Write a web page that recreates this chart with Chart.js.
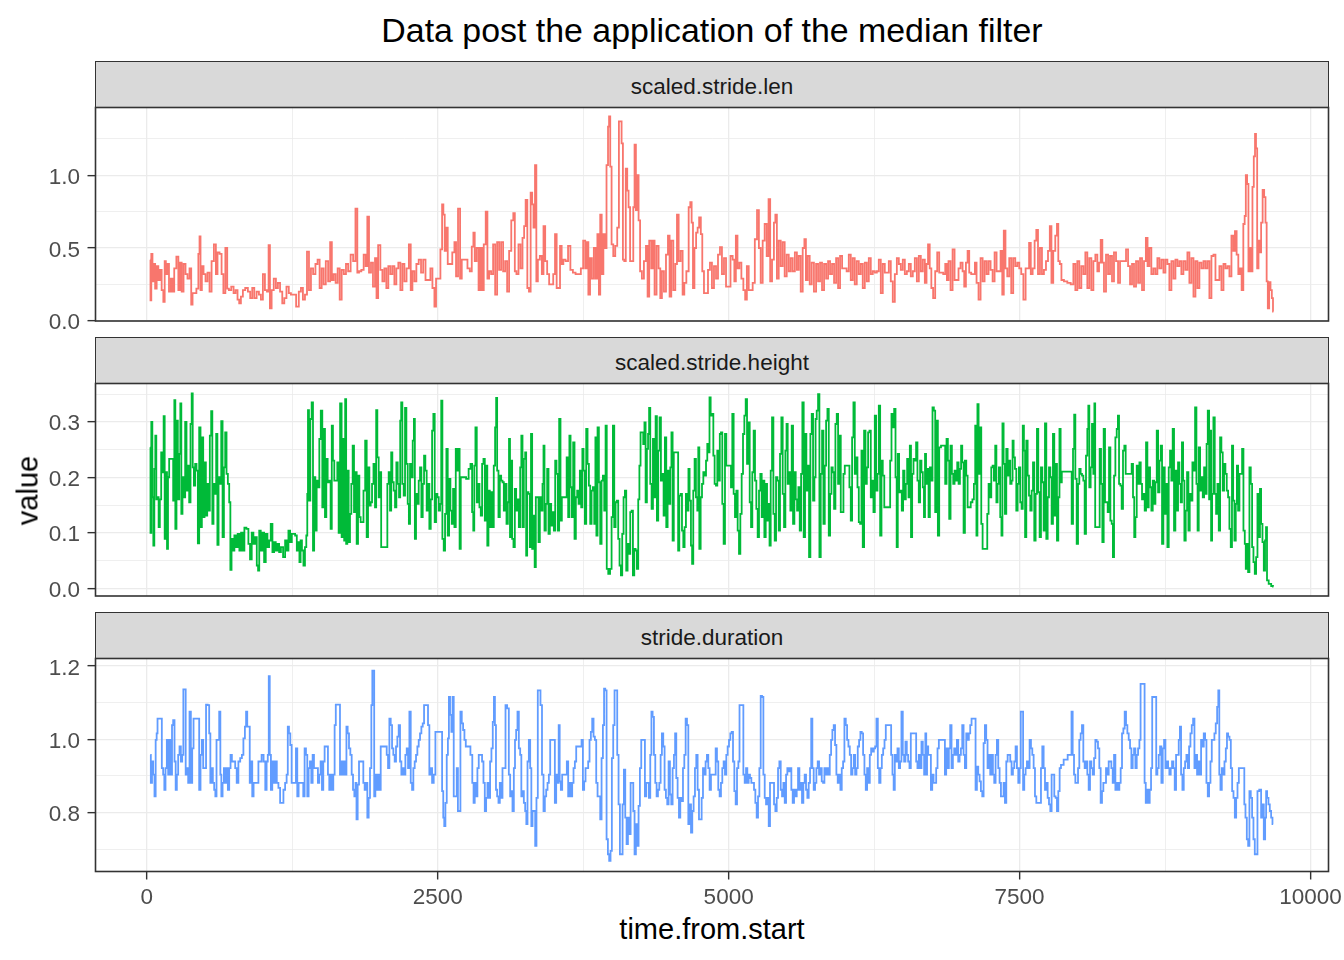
<!DOCTYPE html>
<html>
<head>
<meta charset="utf-8">
<script src="https://cdn.jsdelivr.net/npm/chart.js@4.4.1/dist/chart.umd.min.js"></script>
<style>
  html, body { margin:0; padding:0; background:#ffffff; overflow:hidden; }
  #root { position:relative; width:1344px; height:960px; background:#ffffff; font-family:'Liberation Sans', Arial, sans-serif; }
  .cv { position:absolute; left:0; }
  .strip { position:absolute; left:95px; width:1234px; height:47px; box-sizing:border-box; border:1.6px solid #333333; padding-top:6px; background:#D9D9D9; color:#1A1A1A; font-size:22.5px; display:flex; align-items:center; justify-content:center; line-height:1; }
  .title { position:absolute; left:95.5px; width:1233px; top:13px; height:34px; line-height:34px; text-align:center; font-size:33.9px; color:#000; }
  .xtitle { position:absolute; left:95.5px; width:1233px; top:915px; height:29px; line-height:29px; text-align:center; font-size:29px; color:#000; }
  .ytitle { position:absolute; left:-72px; top:475.5px; width:200px; height:29px; line-height:29px; text-align:center; font-size:29px; color:#000; transform:rotate(-90deg); }
</style>
</head>
<body>
<div id="root">
  <div class="title">Data post the application of the median filter</div>
  <div class="strip" style="top:61px;">scaled.stride.len</div>
  <div class="strip" style="top:337px;">scaled.stride.height</div>
  <div class="strip" style="top:612px;">stride.duration</div>
  <canvas id="c1" class="cv" width="1344" height="254" style="top:87px;"></canvas>
  <canvas id="c2" class="cv" width="1344" height="254" style="top:363px;"></canvas>
  <canvas id="c3" class="cv" width="1344" height="274" style="top:638px;"></canvas>
  <div class="xtitle">time.from.start</div>
  <div class="ytitle">value</div>
</div>
<script>
// ---------------- data ----------------
const panelNames = ['scaled.stride.len', 'scaled.stride.height', 'stride.duration'];
const seriesColors = ['#F8766D', '#00BA38', '#619CFF'];

const xTicks = [0, 2500, 5000, 7500, 10000];
const xTickLabels = ['0', '2500', '5000', '7500', '10000'];
const xMinorTicks = [1250, 3750, 6250, 8750];

const lenTicks = [0, 0.5, 1.0];
const lenTickLabels = ['0.0', '0.5', '1.0'];
const lenMinorTicks = [0.25, 0.75, 1.25];

const heightTicks = [0, 0.1, 0.2, 0.3];
const heightTickLabels = ['0.0', '0.1', '0.2', '0.3'];
const heightMinorTicks = [0.05, 0.15, 0.25, 0.35];

const durTicks = [0.8, 1.0, 1.2];
const durTickLabels = ['0.8', '1.0', '1.2'];
const durMinorTicks = [0.7, 0.9, 1.1];

// [time.from.start, value]
const strideLenPoints = [[29,0.42],[34,0.14],[43,0.46],[54,0.27],[66,0.39],[77,0.22],[92,0.375],[106,0.28],[120,0.35],[135,0.21],[149,0.13],[158,0.41],[169,0.32],[183,0.39],[198,0.20],[215,0.29],[227,0.20],[244,0.36],[264,0.44],[278,0.21],[292,0.40],[307,0.20],[324,0.39],[341,0.32],[358,0.29],[376,0.36],[387,0.11],[399,0.19],[416,0.19],[436,0.22],[450,0.46],[456,0.58],[467,0.21],[479,0.375],[496,0.32],[513,0.27],[530,0.33],[548,0.20],[565,0.41],[588,0.525],[599,0.32],[616,0.47],[634,0.46],[651,0.32],[665,0.19],[685,0.50],[697,0.22],[714,0.21],[737,0.235],[754,0.19],[771,0.21],[788,0.145],[800,0.12],[817,0.165],[834,0.21],[857,0.225],[880,0.20],[897,0.155],[915,0.225],[932,0.155],[955,0.20],[972,0.18],[989,0.145],[1006,0.32],[1024,0.21],[1041,0.20],[1052,0.52],[1064,0.085],[1081,0.21],[1101,0.29],[1118,0.225],[1135,0.26],[1155,0.20],[1173,0.12],[1190,0.155],[1210,0.235],[1230,0.19],[1247,0.18],[1270,0.18],[1296,0.097],[1316,0.20],[1333,0.225],[1350,0.145],[1368,0.18],[1385,0.475],[1402,0.21],[1419,0.36],[1439,0.32],[1459,0.39],[1476,0.42],[1494,0.225],[1511,0.36],[1528,0.25],[1548,0.41],[1568,0.27],[1583,0.54],[1597,0.28],[1614,0.32],[1631,0.26],[1649,0.36],[1666,0.145],[1683,0.35],[1703,0.32],[1720,0.39],[1740,0.34],[1763,0.455],[1783,0.41],[1803,0.77],[1815,0.33],[1832,0.34],[1855,0.35],[1872,0.455],[1889,0.375],[1901,0.715],[1918,0.33],[1935,0.40],[1952,0.235],[1970,0.43],[1978,0.155],[1998,0.52],[2016,0.35],[2033,0.27],[2050,0.36],[2067,0.225],[2084,0.375],[2102,0.32],[2119,0.375],[2136,0.25],[2153,0.36],[2170,0.40],[2188,0.21],[2205,0.39],[2222,0.27],[2242,0.36],[2262,0.525],[2274,0.21],[2291,0.34],[2308,0.27],[2325,0.39],[2348,0.42],[2365,0.33],[2385,0.42],[2405,0.28],[2428,0.28],[2446,0.36],[2463,0.225],[2480,0.097],[2491,0.29],[2514,0.29],[2532,0.49],[2543,0.80],[2554,0.73],[2566,0.48],[2577,0.64],[2595,0.39],[2615,0.39],[2635,0.47],[2652,0.54],[2663,0.305],[2686,0.77],[2698,0.29],[2715,0.42],[2744,0.42],[2767,0.36],[2784,0.34],[2801,0.51],[2812,0.605],[2824,0.41],[2844,0.50],[2858,0.21],[2875,0.50],[2887,0.21],[2904,0.525],[2921,0.75],[2933,0.29],[2950,0.34],[2967,0.32],[2985,0.525],[3002,0.18],[3019,0.54],[3036,0.35],[3053,0.54],[3071,0.34],[3088,0.41],[3105,0.20],[3122,0.48],[3142,0.69],[3157,0.74],[3168,0.34],[3185,0.32],[3203,0.525],[3220,0.36],[3237,0.57],[3248,0.65],[3263,0.83],[3277,0.225],[3291,0.20],[3306,0.88],[3317,0.80],[3329,0.64],[3343,1.07],[3352,0.27],[3369,0.42],[3386,0.445],[3403,0.32],[3415,0.65],[3432,0.41],[3449,0.32],[3466,0.25],[3484,0.25],[3501,0.32],[3515,0.595],[3529,0.225],[3544,0.225],[3558,0.515],[3572,0.39],[3587,0.42],[3610,0.41],[3630,0.515],[3650,0.35],[3673,0.33],[3696,0.32],[3719,0.32],[3741,0.36],[3759,0.55],[3776,0.36],[3787,0.54],[3802,0.18],[3816,0.43],[3833,0.29],[3850,0.50],[3865,0.29],[3879,0.595],[3891,0.18],[3902,0.73],[3916,0.32],[3931,0.595],[3942,0.50],[3959,1.07],[3968,1.335],[3977,1.405],[3988,1.06],[4000,0.525],[4017,0.445],[4034,0.515],[4051,0.64],[4063,1.37],[4074,1.37],[4086,1.22],[4097,0.42],[4109,0.41],[4123,1.045],[4134,0.895],[4146,0.78],[4160,0.41],[4175,0.41],[4186,0.78],[4197,1.21],[4209,0.76],[4220,1.0],[4232,0.69],[4246,0.34],[4263,0.29],[4281,0.41],[4298,0.515],[4309,0.165],[4326,0.55],[4344,0.36],[4355,0.55],[4372,0.18],[4389,0.515],[4407,0.36],[4418,0.155],[4435,0.34],[4453,0.20],[4470,0.455],[4487,0.585],[4498,0.165],[4516,0.55],[4533,0.21],[4550,0.39],[4562,0.73],[4579,0.41],[4596,0.48],[4613,0.18],[4625,0.26],[4648,0.34],[4665,0.78],[4676,0.815],[4688,0.675],[4699,0.225],[4713,0.50],[4728,0.605],[4739,0.64],[4754,0.71],[4768,0.595],[4779,0.34],[4797,0.19],[4814,0.19],[4831,0.35],[4848,0.40],[4865,0.225],[4883,0.375],[4900,0.29],[4917,0.455],[4934,0.505],[4951,0.32],[4969,0.43],[4986,0.235],[5006,0.235],[5026,0.445],[5043,0.42],[5055,0.27],[5069,0.585],[5083,0.36],[5101,0.40],[5118,0.29],[5135,0.21],[5149,0.145],[5164,0.375],[5181,0.21],[5198,0.21],[5215,0.26],[5235,0.56],[5253,0.76],[5267,0.50],[5284,0.26],[5301,0.55],[5318,0.665],[5336,0.445],[5350,0.835],[5364,0.27],[5382,0.42],[5396,0.675],[5407,0.73],[5422,0.29],[5439,0.55],[5456,0.375],[5473,0.54],[5490,0.305],[5508,0.455],[5525,0.34],[5542,0.43],[5559,0.34],[5579,0.47],[5594,0.35],[5611,0.445],[5628,0.20],[5645,0.50],[5657,0.56],[5671,0.28],[5688,0.445],[5705,0.25],[5723,0.40],[5743,0.20],[5760,0.39],[5777,0.27],[5794,0.40],[5811,0.21],[5829,0.39],[5846,0.29],[5863,0.41],[5880,0.32],[5897,0.39],[5915,0.26],[5932,0.43],[5949,0.225],[5966,0.445],[5984,0.36],[6004,0.36],[6024,0.34],[6041,0.455],[6058,0.28],[6075,0.43],[6092,0.25],[6110,0.41],[6127,0.32],[6144,0.39],[6161,0.225],[6179,0.40],[6196,0.27],[6213,0.43],[6230,0.32],[6247,0.34],[6265,0.33],[6282,0.34],[6299,0.42],[6316,0.19],[6333,0.39],[6351,0.33],[6368,0.33],[6385,0.41],[6402,0.27],[6419,0.13],[6437,0.32],[6454,0.43],[6471,0.39],[6488,0.35],[6505,0.42],[6523,0.32],[6540,0.34],[6557,0.39],[6574,0.305],[6591,0.34],[6609,0.43],[6626,0.27],[6643,0.445],[6660,0.34],[6677,0.42],[6695,0.26],[6706,0.39],[6721,0.525],[6735,0.36],[6749,0.225],[6766,0.155],[6784,0.34],[6801,0.47],[6818,0.33],[6835,0.33],[6853,0.32],[6870,0.39],[6881,0.28],[6898,0.41],[6916,0.21],[6933,0.49],[6950,0.28],[6967,0.28],[6984,0.36],[7002,0.40],[7019,0.34],[7030,0.235],[7048,0.40],[7059,0.48],[7076,0.33],[7093,0.32],[7111,0.32],[7122,0.40],[7139,0.26],[7156,0.145],[7174,0.43],[7191,0.27],[7208,0.41],[7225,0.32],[7242,0.41],[7260,0.35],[7277,0.27],[7294,0.47],[7311,0.34],[7328,0.34],[7346,0.48],[7357,0.18],[7372,0.62],[7386,0.36],[7403,0.305],[7420,0.43],[7437,0.19],[7454,0.43],[7472,0.375],[7489,0.40],[7506,0.36],[7523,0.32],[7543,0.145],[7561,0.36],[7575,0.36],[7589,0.535],[7604,0.32],[7621,0.36],[7638,0.55],[7650,0.625],[7667,0.32],[7684,0.50],[7701,0.32],[7718,0.35],[7736,0.41],[7753,0.48],[7767,0.65],[7781,0.26],[7798,0.48],[7816,0.585],[7827,0.665],[7839,0.41],[7853,0.39],[7867,0.28],[7896,0.27],[7925,0.26],[7954,0.25],[7971,0.39],[7988,0.21],[8005,0.41],[8022,0.225],[8040,0.375],[8057,0.32],[8074,0.47],[8091,0.225],[8108,0.43],[8126,0.21],[8143,0.41],[8160,0.455],[8177,0.34],[8189,0.40],[8206,0.555],[8217,0.40],[8234,0.20],[8252,0.455],[8269,0.32],[8286,0.445],[8303,0.27],[8320,0.47],[8338,0.41],[8355,0.26],[8372,0.41],[8389,0.41],[8406,0.41],[8424,0.49],[8441,0.375],[8458,0.25],[8475,0.39],[8492,0.235],[8510,0.41],[8527,0.26],[8544,0.43],[8561,0.21],[8578,0.41],[8593,0.57],[8607,0.375],[8624,0.50],[8641,0.32],[8659,0.36],[8676,0.32],[8693,0.43],[8710,0.36],[8728,0.42],[8745,0.33],[8762,0.42],[8779,0.39],[8796,0.21],[8814,0.41],[8831,0.29],[8848,0.42],[8865,0.375],[8882,0.41],[8899,0.32],[8917,0.41],[8934,0.35],[8951,0.47],[8968,0.26],[8986,0.43],[9003,0.165],[9020,0.41],[9037,0.225],[9054,0.40],[9072,0.36],[9089,0.41],[9106,0.36],[9123,0.41],[9140,0.155],[9158,0.445],[9175,0.455],[9192,0.28],[9209,0.28],[9226,0.375],[9244,0.21],[9261,0.39],[9278,0.36],[9295,0.375],[9312,0.305],[9330,0.585],[9344,0.48],[9358,0.615],[9373,0.455],[9387,0.32],[9401,0.36],[9416,0.21],[9430,0.665],[9439,0.72],[9450,1.0],[9461,0.94],[9473,0.34],[9485,0.50],[9496,0.34],[9507,0.92],[9519,1.13],[9528,1.285],[9536,1.185],[9548,0.36],[9559,0.55],[9570,0.47],[9582,0.675],[9596,0.90],[9608,0.85],[9619,0.675],[9628,0.27],[9639,0.085],[9651,0.265],[9662,0.21],[9674,0.155],[9682,0.063]];

const strideHeightPoints = [[29,0.254],[34,0.10],[43,0.30],[52,0.164],[60,0.077],[69,0.215],[77,0.275],[86,0.16],[97,0.164],[106,0.11],[118,0.16],[129,0.245],[140,0.209],[149,0.31],[158,0.089],[169,0.209],[178,0.071],[186,0.20],[198,0.233],[221,0.233],[232,0.158],[241,0.339],[249,0.107],[261,0.302],[272,0.16],[284,0.242],[292,0.333],[301,0.134],[312,0.20],[324,0.164],[335,0.30],[347,0.176],[358,0.221],[370,0.155],[381,0.296],[390,0.351],[399,0.218],[410,0.185],[421,0.224],[433,0.212],[444,0.081],[456,0.29],[467,0.11],[479,0.272],[490,0.128],[502,0.227],[513,0.131],[525,0.188],[536,0.14],[547,0.275],[559,0.319],[567,0.116],[579,0.188],[590,0.17],[602,0.278],[611,0.078],[622,0.20],[634,0.188],[645,0.301],[657,0.092],[668,0.218],[679,0.281],[691,0.206],[702,0.188],[714,0.155],[722,0.033],[734,0.089],[745,0.068],[760,0.095],[774,0.074],[788,0.098],[803,0.068],[817,0.10],[831,0.068],[846,0.109],[866,0.107],[880,0.08],[894,0.052],[909,0.10],[923,0.08],[938,0.092],[952,0.041],[960,0.032],[972,0.104],[986,0.068],[1001,0.10],[1015,0.047],[1029,0.098],[1044,0.074],[1058,0.086],[1072,0.116],[1087,0.065],[1101,0.083],[1115,0.068],[1130,0.08],[1144,0.065],[1161,0.074],[1181,0.056],[1196,0.086],[1210,0.068],[1224,0.104],[1239,0.083],[1253,0.098],[1267,0.098],[1282,0.095],[1296,0.068],[1307,0.083],[1316,0.047],[1327,0.086],[1339,0.068],[1353,0.041],[1365,0.074],[1376,0.095],[1382,0.17],[1388,0.321],[1399,0.158],[1411,0.305],[1422,0.335],[1434,0.068],[1442,0.20],[1454,0.104],[1465,0.194],[1477,0.182],[1488,0.269],[1502,0.32],[1514,0.146],[1525,0.287],[1537,0.128],[1548,0.233],[1560,0.191],[1574,0.194],[1585,0.107],[1594,0.293],[1605,0.23],[1617,0.194],[1631,0.194],[1643,0.227],[1654,0.10],[1668,0.333],[1680,0.092],[1692,0.269],[1700,0.086],[1709,0.341],[1717,0.08],[1729,0.212],[1740,0.083],[1752,0.134],[1763,0.188],[1775,0.257],[1786,0.137],[1798,0.209],[1809,0.08],[1821,0.203],[1832,0.128],[1843,0.119],[1855,0.119],[1869,0.176],[1884,0.266],[1895,0.092],[1907,0.218],[1918,0.149],[1930,0.155],[1941,0.188],[1955,0.224],[1967,0.146],[1975,0.321],[1987,0.236],[1998,0.164],[2010,0.209],[2018,0.074],[2041,0.074],[2061,0.074],[2073,0.188],[2084,0.209],[2096,0.14],[2104,0.245],[2116,0.191],[2127,0.176],[2139,0.146],[2150,0.227],[2162,0.188],[2173,0.164],[2182,0.302],[2190,0.335],[2202,0.188],[2213,0.167],[2225,0.325],[2236,0.224],[2248,0.152],[2256,0.116],[2268,0.224],[2279,0.20],[2291,0.266],[2299,0.305],[2308,0.089],[2319,0.17],[2331,0.152],[2342,0.194],[2354,0.218],[2365,0.128],[2377,0.188],[2388,0.239],[2399,0.212],[2411,0.14],[2422,0.188],[2434,0.107],[2446,0.16],[2457,0.284],[2468,0.314],[2480,0.119],[2491,0.17],[2503,0.164],[2514,0.14],[2526,0.152],[2534,0.338],[2546,0.089],[2557,0.068],[2569,0.134],[2580,0.251],[2592,0.095],[2603,0.197],[2615,0.14],[2626,0.116],[2638,0.179],[2649,0.11],[2661,0.251],[2672,0.212],[2684,0.251],[2692,0.071],[2704,0.20],[2730,0.20],[2758,0.197],[2773,0.215],[2790,0.224],[2801,0.137],[2810,0.104],[2818,0.221],[2830,0.29],[2841,0.155],[2853,0.188],[2864,0.146],[2876,0.131],[2887,0.224],[2899,0.233],[2910,0.122],[2922,0.221],[2930,0.077],[2942,0.176],[2953,0.11],[2964,0.173],[2976,0.11],[2987,0.221],[2999,0.29],[3005,0.343],[3016,0.212],[3028,0.128],[3039,0.203],[3051,0.194],[3062,0.191],[3074,0.14],[3085,0.188],[3097,0.116],[3108,0.155],[3117,0.269],[3125,0.092],[3134,0.23],[3145,0.089],[3157,0.074],[3168,0.179],[3180,0.14],[3191,0.16],[3203,0.11],[3214,0.218],[3223,0.275],[3234,0.11],[3246,0.233],[3257,0.245],[3263,0.059],[3274,0.173],[3286,0.17],[3297,0.074],[3306,0.278],[3317,0.071],[3329,0.131],[3337,0.038],[3349,0.164],[3360,0.164],[3372,0.083],[3383,0.164],[3395,0.14],[3406,0.188],[3412,0.257],[3423,0.104],[3435,0.152],[3446,0.215],[3458,0.098],[3469,0.152],[3481,0.113],[3492,0.137],[3504,0.104],[3515,0.23],[3526,0.206],[3538,0.104],[3549,0.305],[3561,0.122],[3572,0.164],[3601,0.164],[3615,0.236],[3627,0.128],[3636,0.275],[3647,0.182],[3658,0.128],[3670,0.263],[3681,0.089],[3693,0.164],[3704,0.176],[3716,0.152],[3727,0.212],[3739,0.146],[3747,0.251],[3759,0.212],[3770,0.116],[3782,0.287],[3793,0.224],[3805,0.185],[3816,0.116],[3828,0.176],[3839,0.182],[3851,0.116],[3859,0.272],[3868,0.095],[3879,0.29],[3891,0.191],[3902,0.08],[3914,0.194],[3925,0.203],[3937,0.14],[3948,0.293],[3957,0.035],[3974,0.026],[3988,0.035],[4000,0.128],[4011,0.293],[4023,0.11],[4034,0.155],[4045,0.158],[4057,0.089],[4068,0.041],[4080,0.023],[4091,0.098],[4103,0.164],[4114,0.176],[4126,0.032],[4137,0.08],[4149,0.062],[4160,0.137],[4172,0.14],[4183,0.023],[4195,0.071],[4206,0.068],[4217,0.035],[4229,0.16],[4237,0.221],[4249,0.281],[4260,0.281],[4272,0.26],[4281,0.299],[4292,0.155],[4303,0.251],[4312,0.278],[4321,0.325],[4332,0.188],[4344,0.143],[4355,0.269],[4367,0.164],[4378,0.31],[4389,0.122],[4401,0.248],[4412,0.308],[4424,0.194],[4435,0.206],[4447,0.131],[4458,0.272],[4470,0.11],[4481,0.212],[4493,0.152],[4504,0.218],[4513,0.281],[4524,0.086],[4533,0.245],[4562,0.245],[4570,0.068],[4582,0.167],[4593,0.17],[4605,0.104],[4616,0.074],[4627,0.11],[4639,0.17],[4650,0.14],[4659,0.215],[4670,0.158],[4682,0.077],[4690,0.044],[4702,0.176],[4713,0.233],[4725,0.164],[4736,0.14],[4742,0.254],[4754,0.071],[4765,0.164],[4777,0.188],[4788,0.209],[4800,0.203],[4811,0.23],[4822,0.26],[4831,0.245],[4840,0.344],[4851,0.311],[4863,0.314],[4874,0.239],[4885,0.188],[4897,0.185],[4908,0.248],[4920,0.194],[4928,0.278],[4940,0.281],[4951,0.152],[4963,0.08],[4974,0.278],[4986,0.221],[5014,0.221],[5026,0.182],[5037,0.314],[5049,0.17],[5060,0.128],[5072,0.176],[5083,0.104],[5095,0.062],[5106,0.134],[5118,0.206],[5129,0.278],[5141,0.311],[5152,0.341],[5164,0.224],[5175,0.299],[5187,0.155],[5198,0.11],[5209,0.209],[5221,0.284],[5232,0.194],[5244,0.143],[5255,0.092],[5267,0.176],[5278,0.206],[5290,0.128],[5301,0.194],[5313,0.092],[5324,0.188],[5336,0.122],[5347,0.152],[5356,0.077],[5367,0.212],[5379,0.308],[5390,0.134],[5402,0.086],[5413,0.20],[5425,0.194],[5436,0.104],[5447,0.242],[5459,0.308],[5470,0.17],[5482,0.11],[5493,0.248],[5502,0.296],[5513,0.188],[5525,0.209],[5536,0.14],[5548,0.293],[5559,0.116],[5571,0.209],[5582,0.16],[5594,0.14],[5605,0.182],[5617,0.104],[5628,0.206],[5639,0.335],[5651,0.092],[5662,0.278],[5674,0.176],[5685,0.221],[5697,0.056],[5708,0.278],[5720,0.314],[5731,0.158],[5743,0.20],[5751,0.305],[5763,0.32],[5774,0.35],[5786,0.056],[5797,0.206],[5809,0.284],[5820,0.116],[5832,0.221],[5843,0.302],[5855,0.323],[5866,0.095],[5878,0.17],[5889,0.218],[5900,0.209],[5912,0.143],[5923,0.296],[5935,0.314],[5946,0.188],[5958,0.275],[5969,0.137],[5981,0.137],[5992,0.206],[6004,0.221],[6032,0.221],[6044,0.182],[6055,0.122],[6067,0.272],[6078,0.335],[6090,0.206],[6101,0.236],[6113,0.182],[6124,0.119],[6136,0.116],[6147,0.248],[6158,0.074],[6170,0.284],[6182,0.188],[6193,0.218],[6204,0.281],[6216,0.284],[6227,0.164],[6239,0.194],[6250,0.137],[6262,0.311],[6273,0.176],[6285,0.206],[6296,0.329],[6308,0.095],[6319,0.23],[6330,0.203],[6345,0.146],[6382,0.146],[6394,0.23],[6405,0.314],[6417,0.29],[6428,0.323],[6440,0.20],[6448,0.074],[6459,0.242],[6471,0.173],[6482,0.176],[6494,0.14],[6505,0.212],[6517,0.16],[6528,0.188],[6540,0.233],[6551,0.164],[6563,0.257],[6571,0.092],[6583,0.206],[6594,0.233],[6605,0.23],[6617,0.263],[6628,0.194],[6640,0.155],[6651,0.23],[6663,0.209],[6674,0.182],[6683,0.128],[6692,0.242],[6701,0.188],[6712,0.215],[6724,0.128],[6735,0.218],[6746,0.194],[6758,0.326],[6769,0.32],[6781,0.137],[6792,0.302],[6804,0.095],[6815,0.254],[6835,0.257],[6855,0.257],[6867,0.188],[6878,0.269],[6890,0.23],[6901,0.125],[6913,0.257],[6924,0.206],[6936,0.188],[6947,0.212],[6959,0.194],[6970,0.227],[6982,0.188],[6993,0.215],[7002,0.257],[7013,0.227],[7025,0.10],[7036,0.23],[7048,0.203],[7059,0.146],[7073,0.146],[7088,0.155],[7102,0.16],[7113,0.188],[7125,0.293],[7134,0.095],[7142,0.332],[7154,0.206],[7165,0.29],[7177,0.116],[7188,0.071],[7217,0.071],[7228,0.134],[7240,0.188],[7251,0.164],[7263,0.218],[7274,0.221],[7285,0.194],[7297,0.257],[7305,0.155],[7317,0.188],[7328,0.218],[7340,0.128],[7349,0.095],[7357,0.297],[7369,0.224],[7380,0.134],[7392,0.251],[7403,0.203],[7414,0.23],[7426,0.188],[7437,0.194],[7443,0.266],[7455,0.236],[7466,0.215],[7478,0.14],[7489,0.188],[7500,0.218],[7512,0.155],[7523,0.143],[7532,0.293],[7543,0.248],[7552,0.092],[7564,0.266],[7575,0.203],[7587,0.167],[7598,0.14],[7610,0.176],[7621,0.227],[7632,0.086],[7644,0.17],[7655,0.287],[7667,0.173],[7678,0.092],[7690,0.218],[7701,0.191],[7713,0.104],[7724,0.297],[7736,0.089],[7747,0.164],[7759,0.218],[7770,0.20],[7781,0.116],[7793,0.278],[7804,0.131],[7816,0.224],[7827,0.086],[7839,0.164],[7847,0.287],[7859,0.191],[7867,0.21],[7942,0.21],[7954,0.116],[7965,0.251],[7974,0.313],[7985,0.197],[7997,0.08],[8008,0.188],[8019,0.215],[8031,0.206],[8042,0.203],[8054,0.194],[8065,0.098],[8077,0.239],[8088,0.287],[8094,0.329],[8105,0.182],[8117,0.218],[8128,0.296],[8140,0.206],[8146,0.333],[8154,0.11],[8183,0.11],[8194,0.251],[8206,0.188],[8217,0.083],[8229,0.287],[8240,0.155],[8252,0.155],[8263,0.137],[8275,0.254],[8286,0.122],[8298,0.116],[8306,0.056],[8318,0.203],[8329,0.272],[8341,0.287],[8349,0.311],[8361,0.188],[8372,0.185],[8383,0.143],[8395,0.248],[8406,0.257],[8418,0.206],[8458,0.206],[8469,0.224],[8481,0.164],[8490,0.092],[8501,0.128],[8513,0.221],[8524,0.188],[8536,0.227],[8547,0.188],[8558,0.16],[8570,0.17],[8581,0.14],[8593,0.263],[8604,0.146],[8616,0.218],[8627,0.182],[8639,0.14],[8650,0.194],[8662,0.152],[8673,0.191],[8685,0.284],[8696,0.173],[8708,0.23],[8719,0.257],[8730,0.08],[8742,0.218],[8753,0.134],[8765,0.188],[8776,0.074],[8788,0.218],[8799,0.248],[8810,0.194],[8822,0.287],[8833,0.104],[8845,0.212],[8856,0.14],[8868,0.227],[8879,0.188],[8891,0.155],[8900,0.263],[8911,0.194],[8922,0.086],[8934,0.14],[8945,0.209],[8957,0.104],[8968,0.17],[8980,0.158],[8991,0.227],[9003,0.212],[9014,0.326],[9026,0.188],[9034,0.104],[9046,0.254],[9057,0.176],[9069,0.20],[9080,0.164],[9092,0.218],[9103,0.17],[9112,0.26],[9123,0.32],[9135,0.16],[9143,0.284],[9149,0.086],[9160,0.17],[9172,0.308],[9183,0.17],[9195,0.134],[9206,0.188],[9218,0.104],[9229,0.272],[9240,0.245],[9252,0.176],[9263,0.224],[9275,0.206],[9286,0.176],[9298,0.164],[9309,0.107],[9321,0.074],[9330,0.257],[9341,0.158],[9352,0.086],[9364,0.152],[9372,0.221],[9384,0.14],[9395,0.206],[9407,0.206],[9418,0.251],[9430,0.104],[9441,0.08],[9447,0.035],[9458,0.08],[9470,0.029],[9481,0.218],[9493,0.188],[9504,0.074],[9516,0.047],[9527,0.026],[9539,0.056],[9550,0.17],[9562,0.092],[9570,0.179],[9582,0.116],[9593,0.083],[9605,0.032],[9614,0.086],[9622,0.11],[9631,0.014],[9651,0.008],[9674,0.004],[9682,0.003]];

const strideDurationPoints = [[29,0.957],[40,0.881],[49,0.939],[60,0.903],[72,0.844],[80,0.998],[89,1.016],[95,1.056],[123,1.056],[135,0.921],[146,0.903],[155,0.862],[166,0.921],[178,0.998],[189,0.903],[201,0.998],[212,0.903],[221,1.038],[232,1.052],[244,0.939],[252,0.862],[264,0.903],[275,0.957],[287,0.98],[298,0.939],[310,0.957],[318,1.136],[330,1.136],[338,0.903],[350,0.921],[361,0.881],[373,1.075],[384,0.881],[396,0.975],[407,1.056],[444,1.056],[456,0.862],[467,0.957],[479,0.998],[490,0.921],[502,0.921],[516,1.094],[530,1.093],[542,1.016],[550,0.881],[562,0.921],[573,0.881],[585,0.862],[593,0.844],[605,0.998],[616,0.998],[628,1.075],[636,0.903],[645,0.844],[657,0.881],[668,0.921],[679,0.881],[691,0.921],[702,0.862],[714,0.921],[725,0.957],[737,0.939],[754,0.939],[765,0.921],[780,0.881],[794,0.939],[811,0.948],[823,0.957],[837,1.002],[849,1.034],[857,1.075],[869,1.034],[880,1.034],[889,0.881],[900,0.939],[912,0.844],[923,0.881],[952,0.881],[966,0.939],[978,0.939],[995,0.957],[1012,0.939],[1024,0.862],[1035,0.939],[1044,0.957],[1052,1.172],[1061,0.957],[1072,0.862],[1084,0.939],[1095,0.881],[1110,0.939],[1124,0.881],[1138,0.867],[1153,0.826],[1167,0.826],[1181,0.862],[1196,0.881],[1207,0.903],[1216,1.034],[1227,1.016],[1239,0.984],[1250,0.881],[1276,0.881],[1287,0.975],[1299,0.844],[1310,0.881],[1339,0.881],[1350,0.844],[1362,0.975],[1373,0.957],[1385,0.844],[1396,0.921],[1408,0.939],[1419,0.881],[1431,0.957],[1442,0.921],[1465,0.921],[1476,0.881],[1488,0.903],[1499,0.939],[1511,0.862],[1522,0.939],[1534,0.98],[1551,0.98],[1562,0.903],[1574,0.862],[1585,0.903],[1597,0.862],[1608,0.903],[1620,1.038],[1628,1.094],[1654,1.094],[1666,0.903],[1677,0.939],[1689,0.903],[1700,0.939],[1711,0.903],[1720,1.034],[1732,1.016],[1743,0.975],[1755,0.957],[1766,0.903],[1778,0.862],[1789,0.844],[1798,0.881],[1806,0.781],[1818,0.876],[1829,0.939],[1855,0.939],[1866,0.881],[1878,0.862],[1889,0.881],[1901,0.786],[1912,0.84],[1924,0.921],[1935,1.093],[1941,1.187],[1950,1.187],[1958,0.844],[1970,0.903],[1981,0.862],[1993,0.903],[2004,0.862],[2016,0.98],[2056,0.98],[2067,0.957],[2079,0.921],[2090,1.056],[2102,1.038],[2113,0.975],[2124,0.957],[2136,0.939],[2147,0.98],[2159,1.007],[2170,1.038],[2182,0.939],[2193,0.903],[2205,0.921],[2216,0.903],[2228,0.957],[2239,0.975],[2251,0.921],[2262,1.075],[2274,0.881],[2285,0.862],[2296,0.921],[2308,0.939],[2319,0.957],[2331,0.98],[2342,0.998],[2354,1.016],[2365,1.034],[2377,1.043],[2388,1.093],[2411,1.093],[2422,1.038],[2434,0.903],[2446,0.921],[2457,0.881],[2474,0.903],[2486,1.02],[2532,1.02],[2543,0.858],[2552,0.786],[2560,0.763],[2572,0.826],[2583,0.957],[2592,1.002],[2600,1.115],[2612,1.066],[2623,1.02],[2632,1.115],[2643,0.844],[2658,0.844],[2669,0.921],[2678,0.804],[2689,0.804],[2701,1.075],[2712,1.043],[2724,1.025],[2735,0.998],[2747,0.98],[2772,0.98],[2790,0.957],[2804,0.881],[2812,0.826],[2824,0.881],[2835,0.844],[2847,0.921],[2858,0.957],[2875,0.957],[2887,0.939],[2899,0.881],[2910,0.804],[2922,0.84],[2933,0.881],[2944,0.84],[2956,0.939],[2967,0.975],[2979,1.047],[2987,1.115],[2996,1.038],[3005,0.862],[3016,0.844],[3028,0.826],[3039,0.881],[3051,0.84],[3062,0.921],[3077,0.921],[3088,1.093],[3105,1.084],[3117,0.903],[3128,0.844],[3137,0.858],[3148,0.804],[3160,0.921],[3168,0.998],[3180,1.025],[3191,1.075],[3203,0.975],[3214,0.957],[3223,0.844],[3234,0.858],[3246,0.826],[3257,0.804],[3266,0.768],[3277,0.939],[3289,0.998],[3300,0.921],[3309,0.763],[3320,0.804],[3332,0.804],[3343,0.709],[3354,0.84],[3366,1.133],[3377,1.133],[3389,1.093],[3403,0.903],[3415,0.804],[3426,0.844],[3438,0.862],[3449,0.881],[3461,0.903],[3472,0.998],[3501,0.998],[3512,0.826],[3524,0.903],[3535,0.881],[3544,1.038],[3552,0.885],[3564,0.862],[3575,0.903],[3604,0.903],[3615,0.939],[3627,0.844],[3638,0.881],[3650,0.844],[3661,0.881],[3673,0.921],[3684,0.939],[3696,0.98],[3730,0.98],[3742,0.998],[3753,0.862],[3764,0.885],[3776,0.921],[3787,0.921],[3799,0.939],[3810,0.998],[3822,1.02],[3833,1.056],[3845,1.007],[3856,0.998],[3868,0.881],[3879,0.844],[3891,0.844],[3902,0.781],[3914,0.948],[3925,1.038],[3934,1.138],[3945,1.133],[3957,0.727],[3968,0.686],[3979,0.668],[3991,0.695],[4002,0.948],[4014,1.038],[4025,1.133],[4037,1.133],[4048,0.957],[4060,0.822],[4071,0.686],[4083,0.686],[4094,0.822],[4106,0.917],[4117,0.786],[4129,0.714],[4140,0.786],[4152,0.741],[4163,0.881],[4175,0.881],[4186,0.804],[4197,0.686],[4209,0.768],[4220,0.709],[4232,0.818],[4243,0.921],[4255,0.998],[4275,0.998],[4286,0.844],[4298,0.881],[4309,0.881],[4321,0.84],[4332,0.957],[4341,1.075],[4352,1.061],[4364,0.957],[4375,0.881],[4387,0.844],[4398,0.862],[4410,0.881],[4421,0.957],[4432,1.016],[4444,0.98],[4455,0.862],[4467,0.84],[4478,0.822],[4490,0.939],[4501,0.849],[4513,0.822],[4524,0.921],[4536,0.957],[4544,1.016],[4556,0.894],[4567,0.84],[4579,0.786],[4590,0.84],[4602,0.831],[4613,0.921],[4625,0.957],[4636,1.056],[4648,1.038],[4659,0.768],[4671,0.822],[4682,0.745],[4693,0.804],[4705,0.844],[4716,0.921],[4728,0.957],[4739,0.862],[4751,0.781],[4762,0.781],[4774,0.84],[4785,0.921],[4796,0.903],[4808,0.939],[4819,0.957],[4831,0.921],[4842,0.862],[4854,0.903],[4883,0.903],[4894,0.975],[4905,0.939],[4917,0.862],[4928,0.844],[4940,0.881],[4951,0.921],[4963,0.939],[4974,0.903],[4986,0.957],[4997,0.98],[5009,0.998],[5020,1.016],[5032,1.02],[5043,0.939],[5055,0.858],[5066,0.822],[5078,0.921],[5089,0.939],[5098,1.093],[5121,1.093],[5132,0.903],[5144,0.881],[5155,0.921],[5166,0.881],[5178,0.903],[5189,0.894],[5201,0.881],[5212,0.881],[5224,0.862],[5235,0.826],[5247,0.786],[5258,0.844],[5270,0.921],[5281,1.118],[5293,1.115],[5304,0.903],[5316,0.84],[5327,0.822],[5339,0.84],[5350,0.763],[5361,0.881],[5384,0.881],[5396,0.822],[5407,0.804],[5419,0.84],[5430,0.921],[5442,0.939],[5453,0.862],[5465,0.844],[5476,0.881],[5488,0.826],[5499,0.903],[5510,0.921],[5522,0.912],[5533,0.921],[5545,0.862],[5556,0.826],[5568,0.862],[5579,0.844],[5591,0.862],[5602,0.921],[5614,0.862],[5625,0.881],[5636,0.826],[5648,0.881],[5659,0.903],[5671,0.862],[5682,0.84],[5694,0.881],[5705,0.921],[5714,1.056],[5725,0.921],[5737,0.862],[5748,0.881],[5760,0.921],[5771,0.939],[5783,0.903],[5794,0.921],[5806,0.885],[5817,0.881],[5829,0.921],[5840,0.903],[5852,0.921],[5863,0.903],[5875,0.957],[5886,0.998],[5897,1.025],[5909,1.038],[5920,0.984],[5932,0.903],[5943,0.881],[5955,0.903],[5966,0.862],[5978,0.921],[5989,0.939],[6001,1.056],[6012,1.038],[6024,0.998],[6035,0.98],[6047,0.957],[6058,0.903],[6070,0.921],[6081,0.957],[6093,0.903],[6104,0.921],[6115,0.98],[6127,0.998],[6138,1.02],[6150,1.016],[6161,0.957],[6173,0.903],[6184,0.862],[6196,0.921],[6207,0.881],[6219,0.957],[6230,0.975],[6242,0.966],[6253,0.975],[6265,0.98],[6276,1.056],[6288,0.921],[6299,0.881],[6311,0.921],[6322,0.957],[6334,0.975],[6345,0.998],[6356,1.038],[6391,1.038],[6402,0.957],[6414,0.903],[6422,0.862],[6434,0.957],[6445,0.939],[6457,0.975],[6468,0.921],[6479,0.939],[6491,1.075],[6502,0.957],[6514,0.939],[6525,0.993],[6537,0.957],[6548,0.939],[6560,0.921],[6571,1.016],[6606,1.016],[6617,0.939],[6628,0.921],[6640,0.957],[6651,0.921],[6663,0.993],[6674,0.957],[6686,0.903],[6695,1.016],[6701,0.903],[6709,0.98],[6721,0.957],[6732,0.957],[6744,0.862],[6755,0.903],[6767,0.881],[6778,0.881],[6789,0.921],[6801,0.975],[6812,0.998],[6853,0.998],[6864,0.903],[6875,0.975],[6887,0.921],[6898,0.975],[6910,1.038],[6921,0.921],[6933,0.957],[6944,0.975],[6956,0.957],[6967,0.998],[6979,0.939],[6990,0.957],[7002,0.975],[7013,1.038],[7025,0.957],[7036,0.921],[7048,1.016],[7059,0.998],[7070,1.016],[7082,1.038],[7093,1.056],[7116,1.056],[7128,0.862],[7139,0.925],[7151,0.903],[7162,0.885],[7174,0.858],[7185,0.844],[7197,0.989],[7208,1.038],[7219,0.998],[7231,0.921],[7242,0.957],[7254,0.903],[7265,0.957],[7277,0.903],[7288,0.881],[7300,0.957],[7311,0.998],[7323,0.921],[7334,0.881],[7346,0.844],[7357,0.844],[7369,0.881],[7380,0.826],[7392,0.939],[7403,0.957],[7414,0.957],[7426,0.939],[7437,0.903],[7449,0.921],[7460,0.939],[7472,0.98],[7483,0.921],[7495,0.881],[7506,0.921],[7515,1.075],[7526,1.075],[7535,0.862],[7546,0.903],[7558,0.921],[7569,0.939],[7581,0.921],[7592,0.998],[7604,0.975],[7615,0.957],[7627,0.921],[7638,0.844],[7650,0.826],[7678,0.826],[7690,0.921],[7701,0.98],[7713,0.921],[7724,0.862],[7736,0.881],[7747,0.84],[7759,0.822],[7770,0.804],[7781,0.903],[7793,0.903],[7804,0.844],[7816,0.84],[7827,0.804],[7839,0.858],[7850,0.921],[7862,0.93],[7896,0.944],[7931,0.957],[7942,0.957],[7951,1.075],[7962,0.957],[7974,0.903],[7985,0.881],[7997,0.881],[8008,0.921],[8019,0.998],[8031,1.016],[8042,1.038],[8054,0.939],[8065,0.921],[8077,0.939],[8088,0.903],[8100,0.862],[8111,0.939],[8123,0.921],[8134,0.903],[8146,0.948],[8157,0.998],[8168,0.993],[8180,0.975],[8191,0.921],[8203,0.826],[8214,0.858],[8226,0.881],[8237,0.881],[8249,0.921],[8260,0.903],[8272,0.939],[8283,0.939],[8295,0.921],[8306,0.881],[8318,0.957],[8329,0.862],[8341,0.881],[8352,0.862],[8363,0.881],[8375,0.921],[8386,1.016],[8398,1.029],[8409,1.075],[8421,1.038],[8432,1.016],[8444,0.998],[8455,0.975],[8467,0.921],[8478,0.957],[8490,0.975],[8501,0.921],[8513,0.957],[8524,0.975],[8536,0.998],[8544,1.151],[8570,1.151],[8579,0.881],[8590,0.826],[8601,0.862],[8613,0.826],[8624,0.862],[8636,0.921],[8644,1.115],[8670,1.115],[8679,0.903],[8690,0.921],[8702,0.957],[8713,0.98],[8725,0.881],[8736,0.975],[8748,0.998],[8759,0.921],[8771,0.939],[8782,0.921],[8793,0.903],[8805,0.921],[8816,0.939],[8828,0.921],[8839,0.862],[8851,0.957],[8862,0.957],[8874,0.998],[8882,1.034],[8894,0.903],[8905,0.862],[8917,0.921],[8928,0.939],[8940,0.957],[8951,0.921],[8963,0.98],[8974,1.016],[8986,1.038],[8997,1.056],[9009,0.921],[9020,0.957],[9031,0.903],[9043,0.939],[9054,0.903],[9066,0.998],[9077,0.98],[9089,1.016],[9100,0.998],[9112,0.881],[9123,0.844],[9135,0.881],[9146,0.939],[9158,0.998],[9169,0.998],[9180,1.016],[9192,1.043],[9204,1.088],[9212,1.133],[9221,0.903],[9232,0.862],[9244,0.921],[9255,0.903],[9267,0.939],[9278,0.975],[9287,1.016],[9298,1.007],[9310,0.998],[9321,0.921],[9333,0.858],[9344,0.84],[9356,0.786],[9367,0.84],[9379,0.881],[9390,0.921],[9427,0.921],[9436,0.822],[9447,0.786],[9459,0.727],[9470,0.709],[9481,0.858],[9493,0.84],[9504,0.786],[9516,0.727],[9527,0.686],[9539,0.686],[9550,0.858],[9570,0.862],[9582,0.786],[9593,0.822],[9605,0.727],[9616,0.786],[9622,0.858],[9633,0.84],[9645,0.822],[9656,0.804],[9668,0.786],[9679,0.768]];

// ---------------- rendering ----------------
Chart.defaults.font.family = "'Liberation Sans', Arial, sans-serif";

const X_MIN = -441, X_MAX = 10155;
const AXIS_W = 95.5;
const RIGHT_PAD = 1344 - 1328.5;

const framePlugin = {
  id: 'panelFrame',
  afterDatasetsDraw(chart) {
    const a = chart.chartArea, ctx = chart.ctx;
    ctx.save();
    ctx.strokeStyle = '#333333';
    ctx.lineWidth = 1.6;
    ctx.strokeRect(a.left, a.top, a.right - a.left, a.bottom - a.top);
    ctx.restore();
  }
};

function tickSet(major, minor) {
  return major.concat(minor).sort((a, b) => a - b).map(v => ({ value: v }));
}

function makePanel(id, points, color, yMin, yMax, yMajor, yLabels, yMinor, showX, pad) {
  const isMajorY = v => yMajor.indexOf(v) >= 0;
  const isMajorX = v => xTicks.indexOf(v) >= 0;
  new Chart(document.getElementById(id), {
    type: 'line',
    data: {
      datasets: [{
        data: points.map(p => ({ x: p[0], y: p[1] })),
        borderColor: color,
        borderWidth: 1.8,
        pointRadius: 0,
        fill: false,
        tension: 0,
        stepped: 'middle'
      }]
    },
    options: {
      responsive: false,
      animation: false,
      events: [],
      layout: { padding: pad },
      plugins: { legend: { display: false }, tooltip: { enabled: false }, title: { display: false } },
      scales: {
        x: {
          type: 'linear', min: X_MIN, max: X_MAX,
          afterBuildTicks: s => { s.ticks = tickSet(xTicks, xMinorTicks); },
          afterFit: s => { s.height = showX ? 40 : 0; s.paddingLeft = 0; s.paddingRight = 0; },
          border: { display: false },
          grid: {
            color: '#EBEBEB',
            lineWidth: c => (c.tick && isMajorX(c.tick.value)) ? 1.3 : 0.8,
            drawTicks: showX,
            tickLength: 8,
            tickWidth: 1.4,
            tickColor: c => (c.tick && isMajorX(c.tick.value)) ? '#333333' : 'rgba(0,0,0,0)'
          },
          ticks: {
            display: showX, autoSkip: false, maxRotation: 0, minRotation: 0, padding: 4.5,
            color: '#4D4D4D', font: { size: 22.5 },
            callback: v => { const i = xTicks.indexOf(v); return i >= 0 ? xTickLabels[i] : ''; }
          }
        },
        y: {
          type: 'linear', min: yMin, max: yMax,
          afterBuildTicks: s => { s.ticks = tickSet(yMajor, yMinor); },
          afterFit: s => { s.width = AXIS_W; s.paddingTop = 0; s.paddingBottom = 0; },
          border: { display: false },
          grid: {
            color: '#EBEBEB',
            lineWidth: c => (c.tick && isMajorY(c.tick.value)) ? 1.3 : 0.8,
            tickLength: 8,
            tickWidth: 1.4,
            tickColor: c => (c.tick && isMajorY(c.tick.value)) ? '#333333' : 'rgba(0,0,0,0)'
          },
          ticks: {
            autoSkip: false, padding: 7.5, labelOffset: 2.5, color: '#4D4D4D', font: { size: 22.5 },
            callback: v => { const i = yMajor.indexOf(v); return i >= 0 ? yLabels[i] : ''; }
          }
        }
      }
    },
    plugins: [framePlugin]
  });
}

makePanel('c1', strideLenPoints, seriesColors[0], -0.002, 1.466, lenTicks, lenTickLabels, lenMinorTicks, false,
  { left: 0, right: RIGHT_PAD, top: 20.5, bottom: 20 });
makePanel('c2', strideHeightPoints, seriesColors[1], -0.014, 0.369, heightTicks, heightTickLabels, heightMinorTicks, false,
  { left: 0, right: RIGHT_PAD, top: 20.5, bottom: 21 });
makePanel('c3', strideDurationPoints, seriesColors[2], 0.639, 1.22, durTicks, durTickLabels, durMinorTicks, true,
  { left: 0, right: RIGHT_PAD, top: 20.5, bottom: 0.5 });
</script>
</body>
</html>
